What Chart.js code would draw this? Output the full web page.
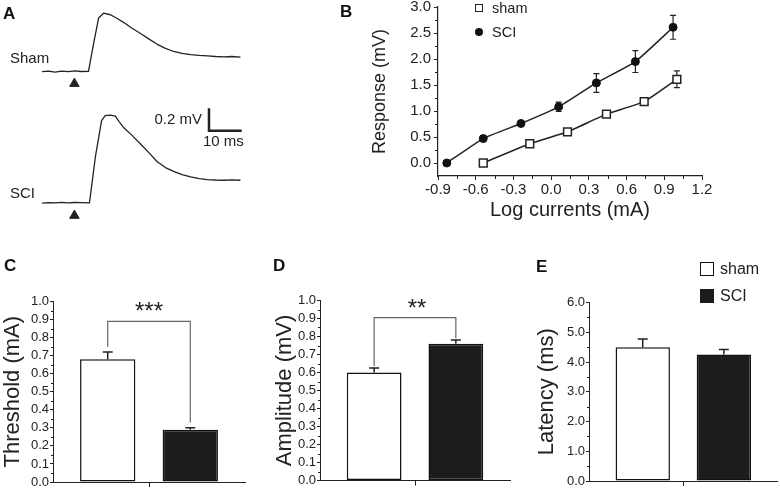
<!DOCTYPE html>
<html>
<head>
<meta charset="utf-8">
<script src="https://cdn.jsdelivr.net/npm/chart.js@4.4.1/dist/chart.umd.min.js"></script>
<style>
  body { margin: 0; background: #fff; }
  #fig { position: relative; width: 780px; height: 488px; overflow: hidden; font-family: Arial, "Liberation Sans", sans-serif; color: #222; }
  #fig canvas, #fig .t, #fig .box { position: absolute; }
  .t { line-height: 1; white-space: nowrap; }
  .lbl { font-weight: bold; font-size: 17px; color: #111; }
  .box { box-sizing: border-box; }
</style>
</head>
<body>
<div id="fig">
  <canvas id="chartAsham" width="260" height="100" style="left:0px;top:0px"></canvas>
  <canvas id="chartAsci" width="260" height="135" style="left:0px;top:95px"></canvas>
  <canvas id="chartB" width="400" height="230" style="left:330px;top:0px"></canvas>
  <canvas id="chartC" width="260" height="238" style="left:0px;top:250px"></canvas>
  <canvas id="chartD" width="260" height="238" style="left:260px;top:250px"></canvas>
  <canvas id="chartE" width="260" height="238" style="left:520px;top:250px"></canvas>

  <div class="t lbl" style="left:3px;top:5px">A</div>
  <div class="t lbl" style="left:340px;top:3px">B</div>
  <div class="t lbl" style="left:4px;top:257px">C</div>
  <div class="t lbl" style="left:273px;top:257px">D</div>
  <div class="t lbl" style="left:536px;top:258px">E</div>

  <div class="t" style="left:10px;top:49.5px;font-size:15px">Sham</div>
  <div class="t" style="left:10px;top:184.5px;font-size:15px">SCI</div>
  <div class="t" style="right:578px;top:110.5px;font-size:15px">0.2 mV</div>
  <div class="t" style="left:203px;top:132.5px;font-size:15px">10 ms</div>

  <div class="box" style="left:475px;top:4px;width:8px;height:8px;border:1.5px solid #222;background:#fff"></div>
  <div class="box" style="left:475px;top:28px;width:8px;height:8px;border-radius:50%;background:#111"></div>
  <div class="t" style="left:492px;top:1px;font-size:14.5px">sham</div>
  <div class="t" style="left:492px;top:25px;font-size:14.5px">SCI</div>

  <div class="t" style="left:119px;top:299px;width:60px;text-align:center;font-size:24px">***</div>
  <div class="t" style="left:387px;top:295.5px;width:60px;text-align:center;font-size:24px">**</div>

  <div class="box" style="left:700px;top:262px;width:14px;height:14px;border:1.5px solid #111;background:#fff"></div>
  <div class="box" style="left:700px;top:289px;width:14px;height:14px;background:#1c1c1c"></div>
  <div class="t" style="left:720px;top:261px;font-size:16px">sham</div>
  <div class="t" style="left:720px;top:287.5px;font-size:16px">SCI</div>
</div>

<script>
// --- Panel A: evoked traces (ms, mV above baseline) ---
const shamTraceT = [0, 2, 4, 6, 8, 10, 12, 14.2, 15.8, 17.3, 18.8, 20.9, 23, 25, 27.5, 30.1, 32.7, 35.2, 37.7, 40.2, 42.8, 45.4, 48, 50.5, 53, 55.5, 58, 60.6];
const shamTraceV = [0, 0.006, -0.003, 0.005, 0.001, 0.007, 0.002, 0.003, 0.266, 0.495, 0.538, 0.524, 0.49, 0.452, 0.40, 0.352, 0.30, 0.252, 0.215, 0.186, 0.168, 0.157, 0.15, 0.146, 0.14, 0.137, 0.14, 0.135];
const sciTraceT = [0, 2, 4, 6, 8, 10, 12, 14.5, 16.3, 18.2, 19.3, 20.8, 22.4, 23.6, 25, 27.5, 30.1, 32.7, 35.2, 37.7, 40.2, 42.8, 45.4, 48, 50.5, 53, 55.5, 58, 60.6];
const sciTraceV = [0, 0.005, 0.002, 0.007, 0.003, 0.006, 0.004, 0.003, 0.409, 0.73, 0.775, 0.78, 0.77, 0.72, 0.667, 0.60, 0.524, 0.445, 0.367, 0.315, 0.281, 0.252, 0.232, 0.218, 0.209, 0.205, 0.203, 0.206, 0.203];
const stimT = [9.9];
const stimV = [-0.11];
const scaleBarT = [51, 51, 61];   // 10 ms
const scaleBarV = [0.84, 0.64, 0.64]; // 0.2 mV

// --- Panel B: input/output curves ---
const shamLogI = [-0.54, -0.17, 0.13, 0.44, 0.74, 1.0];
const shamResp = [0.0, 0.37, 0.60, 0.94, 1.18, 1.61];
const shamRespSem = [0, 0.03, 0.03, 0.06, 0.05, 0.16];
const sciLogI = [-0.83, -0.54, -0.24, 0.06, 0.36, 0.67, 0.97];
const sciResp = [0.0, 0.47, 0.76, 1.08, 1.54, 1.95, 2.61];
const sciRespSem = [0, 0.03, 0.03, 0.09, 0.18, 0.21, 0.23];
const bTicksX = [-0.9, -0.6, -0.3, 0, 0.3, 0.6, 0.9, 1.2];
const bTicksY = [0, 0.5, 1, 1.5, 2, 2.5, 3];

// --- Panels C-E: group means +/- SEM ---
const groups = ['sham', 'SCI'];
const thresholdMean = [0.68, 0.29];
const thresholdSem = [0.04, 0.01];
const amplitudeMean = [0.60, 0.76];
const amplitudeSem = [0.025, 0.02];
const latencyMean = [4.5, 4.25];
const latencySem = [0.27, 0.17];

Chart.defaults.font.family = 'Arial, "Liberation Sans", sans-serif';
Chart.defaults.color = '#222';

const pts = (xs, ys) => xs.map((x, i) => ({x: x, y: ys[i]}));
const mids = (ticks) => ticks.slice(1).map((v, i) => (v + ticks[i]) / 2);
const range = (lo, hi, step) => { const a = []; for (let i = 0; lo + i * step <= hi + 1e-9; i++) a.push(+(lo + i * step).toFixed(4)); return a; };

// fix axis box size so the plot area lands where it should
function fixBox(w, h) {
  return s => {
    if (w != null) s.width = w;
    if (h != null) s.height = h;
    s.paddingTop = s.paddingBottom = s.paddingLeft = s.paddingRight = 0;
  };
}

// --- plugins ---
function drawErrors(chart, behind) {
  const ctx = chart.ctx, ys = chart.scales.y;
  chart.data.datasets.forEach((ds, i) => {
    if (!ds.errors || !!ds.errorsBehind !== behind) return;
    chart.getDatasetMeta(i).data.forEach((el, j) => {
      const err = ds.errors[j];
      if (!err) return;
      const raw = ds.data[j];
      const v = typeof raw === 'object' ? raw.y : raw;
      const top = ys.getPixelForValue(v + err);
      const bot = ys.getPixelForValue(ds.errorsUp ? v : v - err);
      const w = ds.errorCap / 2;
      ctx.save();
      ctx.strokeStyle = '#222';
      ctx.lineWidth = ds.errorWidth || 1.2;
      ctx.beginPath();
      ctx.moveTo(el.x, bot); ctx.lineTo(el.x, top);
      ctx.moveTo(el.x - w, top); ctx.lineTo(el.x + w, top);
      if (!ds.errorsUp) { ctx.moveTo(el.x - w, bot); ctx.lineTo(el.x + w, bot); }
      ctx.stroke();
      ctx.restore();
    });
  });
}
const errorBars = {
  id: 'errorBars',
  beforeDatasetsDraw(chart) { drawErrors(chart, true); },
  afterDatasetsDraw(chart) { drawErrors(chart, false); }
};

const minorTicks = {
  id: 'minorTicks',
  afterDraw(chart, args, opts) {
    if (!opts.x && !opts.y) return;
    const {ctx, chartArea: a, scales} = chart;
    ctx.save();
    ctx.strokeStyle = '#222';
    ctx.lineWidth = 1;
    ctx.beginPath();
    (opts.x || []).forEach(v => {
      const px = Math.round(scales.x.getPixelForValue(v)) + 0.5;
      ctx.moveTo(px, a.bottom); ctx.lineTo(px, a.bottom + opts.len);
    });
    (opts.y || []).forEach(v => {
      const py = Math.round(scales.y.getPixelForValue(v)) + 0.5;
      ctx.moveTo(a.left - opts.len, py); ctx.lineTo(a.left, py);
    });
    ctx.stroke();
    ctx.restore();
  }
};

const sigBracket = {
  id: 'sigBracket',
  afterDatasetsDraw(chart, args, opts) {
    if (opts.top == null) return;
    const ctx = chart.ctx, ys = chart.scales.y;
    const x0 = chart.getDatasetMeta(0).data[0].x;
    const x1 = chart.getDatasetMeta(1).data[0].x;
    ctx.save();
    ctx.strokeStyle = '#666';
    ctx.lineWidth = 1.2;
    ctx.beginPath();
    ctx.moveTo(x0, ys.getPixelForValue(opts.legs[0]));
    ctx.lineTo(x0, ys.getPixelForValue(opts.top));
    ctx.lineTo(x1, ys.getPixelForValue(opts.top));
    ctx.lineTo(x1, ys.getPixelForValue(opts.legs[1]));
    ctx.stroke();
    ctx.restore();
  }
};

Chart.register(errorBars, minorTicks, sigBracket);

// --- Panel A ---
function traceChart(id, t, v, yMin, yMax, pad, extra) {
  const datasets = [
    { data: pts(t, v), showLine: true, borderColor: '#222', borderWidth: 1.3, borderJoinStyle: 'round', pointRadius: 0, clip: false },
    { data: pts(stimT, stimV), pointStyle: 'triangle', pointRadius: 5.5, backgroundColor: '#222', borderColor: '#222', borderWidth: 1, clip: false }
  ].concat(extra || []);
  return new Chart(document.getElementById(id), {
    type: 'scatter',
    data: { datasets: datasets },
    options: {
      responsive: false, animation: false,
      layout: { padding: pad },
      plugins: { legend: {display: false}, tooltip: {enabled: false} },
      scales: {
        x: { type: 'linear', display: false, min: 0, max: 62 },
        y: { display: false, min: yMin, max: yMax }
      }
    }
  });
}
traceChart('chartAsham', shamTraceT, shamTraceV, -0.15, 0.6, {left: 42, right: 15, top: 1, bottom: 12});
traceChart('chartAsci', sciTraceT, sciTraceV, -0.15, 0.9, {left: 42, right: 15, top: 3.3, bottom: 9.9}, [
  { data: pts(scaleBarT, scaleBarV), showLine: true, borderColor: '#222', borderWidth: 2.5, pointRadius: 0, clip: false, borderJoinStyle: 'miter' }
]);

// --- Panel B ---
new Chart(document.getElementById('chartB'), {
  type: 'scatter',
  data: {
    datasets: [
      { label: 'sham', data: pts(shamLogI, shamResp), errors: shamRespSem, errorsBehind: true, errorCap: 6,
        showLine: true, borderColor: '#222', borderWidth: 1.5, tension: 0.15,
        pointStyle: 'rect', pointRadius: 5.5, pointBackgroundColor: '#fff', pointBorderColor: '#222', pointBorderWidth: 1.5, clip: false },
      { label: 'SCI', data: pts(sciLogI, sciResp), errors: sciRespSem, errorsBehind: true, errorCap: 6,
        showLine: true, borderColor: '#222', borderWidth: 1.5, tension: 0.15,
        pointStyle: 'circle', pointRadius: 4, pointBackgroundColor: '#111', pointBorderColor: '#111', pointBorderWidth: 1, clip: false }
    ]
  },
  options: {
    responsive: false, animation: false,
    layout: { padding: {left: 0, right: 28, top: 7, bottom: 0} },
    plugins: {
      legend: {display: false}, tooltip: {enabled: false},
      minorTicks: { x: mids(bTicksX), y: mids(bTicksY), len: 3 }
    },
    scales: {
      x: {
        type: 'linear', min: -0.9, max: 1.2,
        afterBuildTicks: s => { s.ticks = bTicksX.map(v => ({value: v})); },
        afterFit: fixBox(null, 54),
        grid: { drawOnChartArea: false, tickLength: 4, color: '#222' },
        border: { color: '#222', width: 1.2 },
        ticks: { font: {size: 15}, padding: 1, maxRotation: 0, autoSkip: false, callback: v => v.toFixed(1) },
        title: { display: true, text: 'Log currents (mA)', font: {size: 20}, padding: {top: 0, bottom: 8} }
      },
      y: {
        min: -0.25, max: 3,
        afterBuildTicks: s => { s.ticks = bTicksY.map(v => ({value: v})); },
        afterFit: fixBox(108, null),
        grid: { drawOnChartArea: false, tickLength: 4, color: '#222' },
        border: { color: '#222', width: 1.2 },
        ticks: { font: {size: 15}, padding: 3, autoSkip: false, callback: v => v.toFixed(1) },
        title: { display: true, text: 'Response (mV)', font: {size: 18}, padding: {top: 39, bottom: 0} }
      }
    }
  }
});

// --- Panels C-E ---
function barChart(id, mean, sem, o) {
  return new Chart(document.getElementById(id), {
    type: 'bar',
    data: {
      labels: [''],
      datasets: groups.map((g, i) => ({
        label: g,
        data: [mean[i]],
        errors: [sem[i]], errorsUp: true, errorCap: 10, errorWidth: 1.5,
        backgroundColor: i ? '#1c1c1c' : '#fff',
        borderColor: '#111', borderWidth: 1.5, borderSkipped: false,
        categoryPercentage: 0.86, barPercentage: 0.67
      }))
    },
    options: {
      responsive: false, animation: false,
      layout: { padding: o.pad },
      plugins: {
        legend: {display: false}, tooltip: {enabled: false},
        minorTicks: { y: mids(o.ticks), len: 2 },
        sigBracket: o.bracket || {}
      },
      scales: {
        x: {
          grid: { offset: false, drawOnChartArea: false, tickLength: 5, color: '#222' },
          border: { color: '#222', width: 1 },
          ticks: { display: false },
          afterFit: fixBox(null, o.xh)
        },
        y: {
          min: 0, max: o.ticks[o.ticks.length - 1],
          afterBuildTicks: s => { s.ticks = o.ticks.map(v => ({value: v})); },
          afterFit: fixBox(o.yw, null),
          grid: { drawOnChartArea: false, tickLength: 3, color: '#222' },
          border: { color: '#222', width: 1 },
          ticks: { font: {size: 13}, padding: 1, autoSkip: false, callback: v => v.toFixed(1) },
          title: { display: true, text: o.title, font: {size: 22}, padding: {top: o.tp, bottom: 0} }
        }
      }
    }
  });
}

barChart('chartC', thresholdMean, thresholdSem, {
  pad: {left: 0, right: 15, top: 51.5, bottom: 0}, xh: 6, yw: 53, tp: 0,
  ticks: range(0, 1, 0.1), title: 'Threshold (mA)',
  bracket: { top: 0.89, legs: [0.75, 0.33] }
});
barChart('chartD', amplitudeMean, amplitudeSem, {
  pad: {left: 0, right: 10, top: 50.5, bottom: 0}, xh: 7.5, yw: 60, tp: 11.8,
  ticks: range(0, 1, 0.1), title: 'Amplitude (mV)',
  bracket: { top: 0.905, legs: [0.635, 0.79] }
});
barChart('chartE', latencyMean, latencySem, {
  pad: {left: 0, right: 2.4, top: 52.5, bottom: 0}, xh: 7, yw: 69, tp: 13.5,
  ticks: range(0, 6, 1), title: 'Latency (ms)'
});
</script>
</body>
</html>
